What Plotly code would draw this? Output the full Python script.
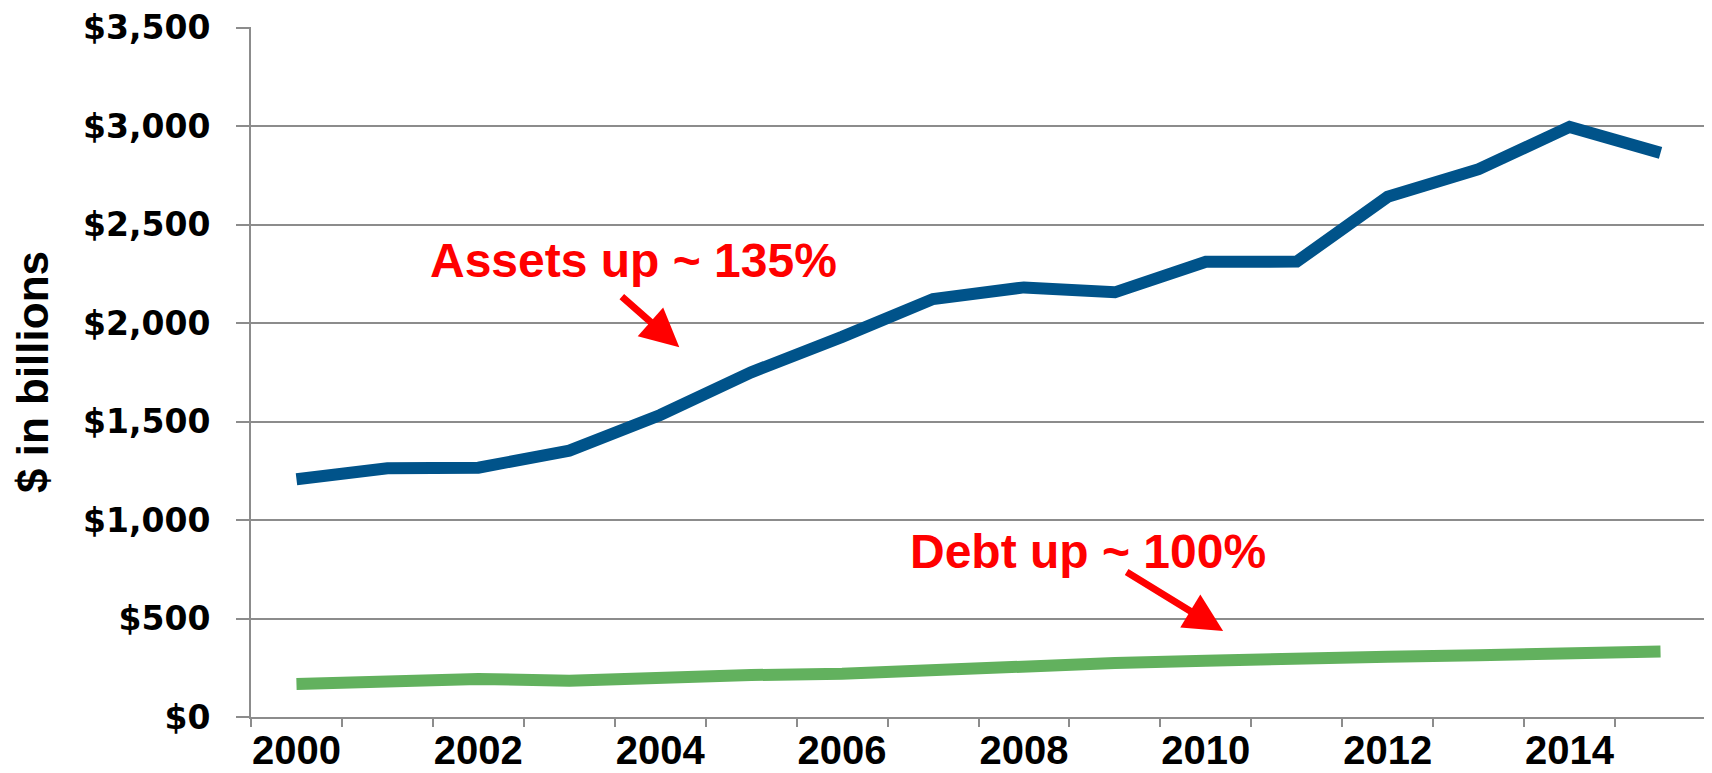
import plotly.graph_objects as go

# ── Data ─────────────────────────────────────────────────────────────────────
years = list(range(2000, 2016))
assets = [1207, 1263, 1266, 1352, 1533, 1750, 1930, 2122, 2181, 2156,
          2311, 2312, 2641, 2781, 2996, 2864]
debt = [167, 181, 193, 184, 203, 213, 220, 240, 262, 274,
        286, 302, 306, 313, 321, 333]
label_years = [2000, 2002, 2004, 2006, 2008, 2010, 2012, 2014]
y_ticks = [0, 500, 1000, 1500, 2000, 2500, 3000, 3500]

BLUE = "#00538A"
GREEN = "#62B15E"
RED = "#FF0000"
GRID = "#8C8C8C"
FONT = "Liberation Sans"

fig = go.Figure()
fig.add_trace(go.Scatter(x=years, y=assets, mode="lines",
                         line=dict(color=BLUE, width=12), name="Assets"))
fig.add_trace(go.Scatter(x=years, y=debt, mode="lines",
                         line=dict(color=GREEN, width=12), name="Debt"))

# ── Annotations ──────────────────────────────────────────────────────────────
fig.add_annotation(x=2001.45, y=2318, text="Assets up ~ 135%", showarrow=False,
                   xanchor="left", yanchor="middle",
                   font=dict(family=FONT, size=48, color=RED, weight="bold"))
fig.add_annotation(x=2004.21, y=1877, ax=-59, ay=-52, text="", showarrow=True,
                   arrowhead=2, arrowsize=1.1, arrowwidth=7, arrowcolor=RED)
fig.add_annotation(x=2006.73, y=842, text="Debt up ~ 100%", showarrow=False,
                   xanchor="left", yanchor="middle",
                   font=dict(family=FONT, size=48, color=RED, weight="bold"))
fig.add_annotation(x=2010.19, y=436, ax=-98, ay=-60, text="", showarrow=True,
                   arrowhead=2, arrowsize=1.1, arrowwidth=7, arrowcolor=RED)

# ── Layout (page body adds an 8px offset) ────────────────────────────────────
fig.update_layout(
    width=1704, height=765,
    paper_bgcolor="white", plot_bgcolor="white",
    showlegend=False,
    margin=dict(l=243, r=6, t=19, b=56),
)
fig.update_xaxes(
    range=[1999.5, 2015.5], automargin=False,
    tickvals=label_years, ticktext=[str(y) for y in label_years],
    ticks="", showgrid=False, zeroline=False,
    showline=True, linecolor=GRID, linewidth=2,
    ticklabelstandoff=-3, ticklabeloverflow="allow",
    tickfont=dict(family=FONT, size=40, color="black", weight="bold"),
    minor=dict(tickvals=[y - 0.5 for y in years] + [years[-1] + 0.5],
               ticks="outside", ticklen=8, tickcolor=GRID, tickwidth=2,
               showgrid=False),
)
fig.update_yaxes(
    range=[0, 3503], tickvals=y_ticks, automargin=False,
    ticktext=[f"${v:,}" for v in y_ticks],
    showgrid=True, gridcolor=GRID, gridwidth=2, zeroline=False,
    showline=True, linecolor=GRID, linewidth=2,
    ticks="outside", ticklen=13, tickcolor=GRID, tickwidth=2,
    ticklabelstandoff=19, ticklabeloverflow="allow",
    tickfont=dict(family="DejaVu Sans", size=33, color="black", weight="bold"),
    title=dict(text="$ in billions", standoff=43,
               font=dict(family=FONT, size=44, color="black", weight="bold")),
)

fig.write_html("out.html")
